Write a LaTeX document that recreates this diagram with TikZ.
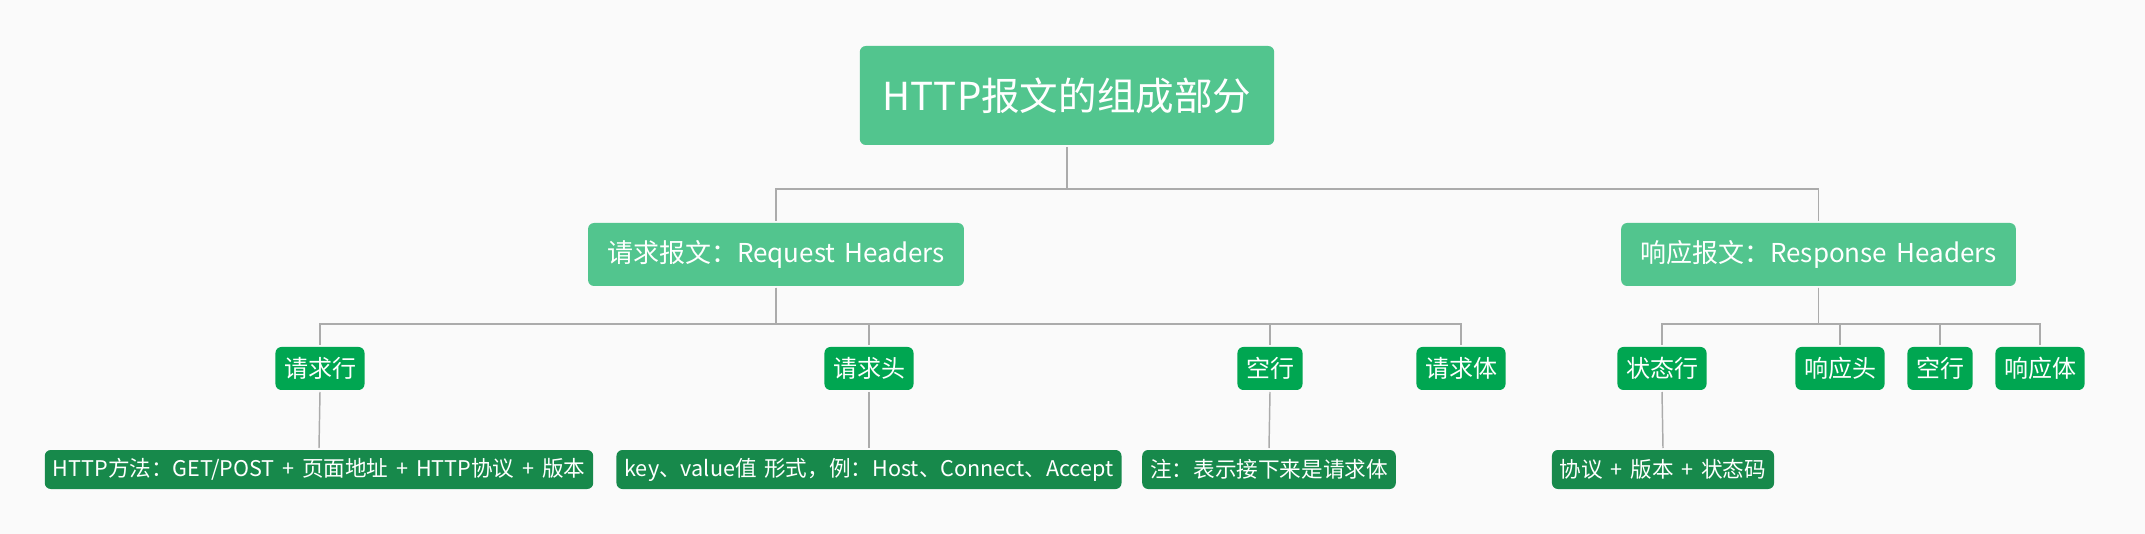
\documentclass[tikz,border=0pt]{standalone}
\usepackage{fontspec}
\newfontfamily\cjk{Noto Sans CJK SC}
\newfontfamily\cjknote[WordSpace=1.6]{Noto Sans CJK SC}
\definecolor{bgcol}{HTML}{FAFAFA}
\definecolor{topgreen}{HTML}{52C58E}
\definecolor{midgreen}{HTML}{00A651}
\definecolor{lowgreen}{HTML}{17894B}
\definecolor{wire}{HTML}{ABABAB}
\begin{document}
\begin{tikzpicture}[x=0.75pt,y=-0.75pt,
            box/.style={rounded corners=4.5pt,text=white,outer sep=1.5pt,inner ysep=0pt},
            rootbox/.style={box,fill=topgreen,font=\cjk\fontsize{28.9}{33}\selectfont,minimum height=74.25pt,inner xsep=17.25pt},
            partbox/.style={box,fill=topgreen,font=\cjk\fontsize{19.5}{23}\selectfont,minimum height=47.25pt,inner xsep=14.25pt},
            itembox/.style={box,fill=midgreen,font=\cjk\fontsize{18}{21}\selectfont,minimum height=32.25pt,inner xsep=6.4pt},
            notebox/.style={box,fill=lowgreen,font=\cjknote\fontsize{16.2}{19}\selectfont,minimum height=29.25pt,inner xsep=6pt},
            wire/.style={draw=wire,line width=1.1pt}]
            \fill[bgcol] (0, 0) rectangle (2145, 534);

            \node[rootbox] (msg) at (1067, 95.5) {HTTP报文的组成部分};
            \node[partbox] (req) at (776, 254.5) {请求报文：Request Headers};
            \node[partbox] (resp) at (1818.5, 254.5) {响应报文：Response Headers};

            \node[itembox] (reqline) at (320, 368.5) {请求行};
            \node[itembox] (reqhead) at (869, 368.5) {请求头};
            \node[itembox] (reqblank) at (1270, 368.5) {空行};
            \node[itembox] (reqbody) at (1461, 368.5) {请求体};
            \node[itembox] (statline) at (1662, 368.5) {状态行};
            \node[itembox] (resphead) at (1840, 368.5) {响应头};
            \node[itembox] (respblank) at (1940, 368.5) {空行};
            \node[itembox] (respbody) at (2040, 368.5) {响应体};

            \node[notebox] (method) at (319, 469.5) {HTTP方法：GET/POST + 页面地址 + HTTP协议 + 版本};
            \node[notebox] (keyval) at (869, 469.5) {key、value值 形式，例：Host、Connect、Accept};
            \node[notebox] (bodynote) at (1269, 469.5) {注：表示接下来是请求体};
            \node[notebox] (statnote) at (1663, 469.5) {协议 + 版本 + 状态码};

            \coordinate (busA) at (0, 189);
            \coordinate (busB) at (0, 324);

            \draw[wire] (msg.south) to (msg.south |- busA) -| (req.north);
            \draw[wire] (msg.south |- busA) -| (resp.north);
            \foreach \kid in {reqline, reqhead, reqblank, reqbody}
                \draw[wire] (req.south) to (req.south |- busB) -| (\kid.north);
            \foreach \kid in {statline, resphead, respblank, respbody}
                \draw[wire] (resp.south) to (resp.south |- busB) -| (\kid.north);

            \draw[wire] (reqline.south) to (method.north);
            \draw[wire] (reqhead.south) to (keyval.north);
            \draw[wire] (reqblank.south) to (bodynote.north);
            \draw[wire] (statline.south) to (statnote.north);
        \end{tikzpicture}
\end{document}
